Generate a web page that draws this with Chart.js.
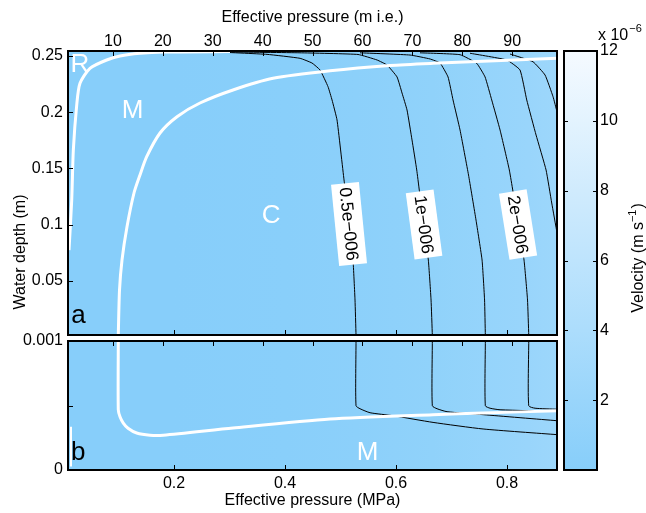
<!DOCTYPE html>
<html>
<head>
<meta charset="utf-8">
<title>Velocity vs effective pressure and water depth</title>
<script src="https://cdn.jsdelivr.net/npm/chart.js@4.4.1/dist/chart.umd.min.js"></script>
<style>
html,body{margin:0;padding:0;background:#ffffff;}
#wrap{position:relative;width:646px;height:513px;overflow:hidden;background:#fff;}
#wrap canvas{position:absolute;left:0;top:0;}
</style>
</head>
<body>
<div id="wrap">
<canvas id="panelA" width="646" height="513"></canvas>
<canvas id="panelB" width="646" height="513"></canvas>
<canvas id="colorbar" width="646" height="513"></canvas>
</div>
<script>
// ================= DATA =================
const mpaRange = [0.009, 0.890];          // effective pressure (MPa)
const mPerMPa = 111.2;                     // m ice-equivalent per MPa
const mpaTicks = [0.2, 0.4, 0.6, 0.8];
const mpaTickLabels = ['0.2', '0.4', '0.6', '0.8'];
const mieTicks = [10, 20, 30, 40, 50, 60, 70, 80, 90];
const mieTickLabels = ['10', '20', '30', '40', '50', '60', '70', '80', '90'];

const depthRangeA = [0.0017, 0.2545];      // water depth (m), panel a
const depthTicksA = [0.05, 0.1, 0.15, 0.2, 0.25];
const depthTickLabelsA = ['0.05', '0.1', '0.15', '0.2', '0.25'];
const depthRangeB = [0, 0.001];            // water depth (m), panel b
const depthTicksB = [0, 0.0005, 0.001];
const depthTickLabelsB = ['0', '', '0.001'];

const velRange = [0, 12];                  // velocity (x 1e-6 m/s)
const velTicks = [2, 4, 6, 8, 10, 12];
const velTickLabels = ['2', '4', '6', '8', '10', '12'];

// background velocity field (x 1e-6 m/s) across effective pressure
const fieldN = [0.009, 0.2, 0.4, 0.528, 0.666, 0.761, 0.839, 0.890];
const fieldV = [0, 0.03, 0.22, 0.5, 1.0, 1.5, 2.0, 2.4];

// velocity contours, panel a  [effective pressure MPa, water depth m]
const contourA05 = [[0.2703,0.2538],[0.3676,0.2515],[0.4270,0.2480],[0.4486,0.2438],[0.4631,0.2376],[0.4775,0.2227],[0.4847,0.2109],[0.4937,0.1931],[0.5063,0.1397],[0.5153,0.1040],[0.5225,0.0684],[0.5261,0.0328],[0.5279,0.0017]];
const contourA10 = [[0.3009,0.2536],[0.4270,0.2529],[0.5315,0.2514],[0.5658,0.2465],[0.5838,0.2420],[0.6018,0.2314],[0.6108,0.2171],[0.6198,0.2020],[0.6288,0.1753],[0.6373,0.1486],[0.6486,0.1040],[0.6582,0.0684],[0.6631,0.0328],[0.6654,0.0017]];
const contourA15 = [[0.5351,0.2529],[0.6252,0.2509],[0.6613,0.2474],[0.6793,0.2438],[0.6937,0.2314],[0.7027,0.2109],[0.7153,0.1842],[0.7306,0.1441],[0.7441,0.1040],[0.7550,0.0684],[0.7595,0.0328],[0.7609,0.0017]];
const contourA20 = [[0.6432,0.2529],[0.7153,0.2512],[0.7454,0.2435],[0.7604,0.2314],[0.7724,0.2109],[0.7874,0.1842],[0.8041,0.1486],[0.8162,0.1130],[0.8306,0.0684],[0.8369,0.0328],[0.8391,0.0017]];
const contourA25 = [[0.7333,0.2525],[0.7995,0.2465],[0.8234,0.2376],[0.8355,0.2109],[0.8523,0.1797],[0.8703,0.1486],[0.8805,0.1192],[0.8901,0.0925]];
const contourA30 = [[0.8054,0.2518],[0.8468,0.2449],[0.8685,0.2331],[0.8829,0.2138],[0.8901,0.2002]];

// velocity contours, panel b
const contourB05 = [[0.5279,0.0010],[0.5279,0.000498],[0.5351,0.000475],[0.5532,0.000444],[0.5946,0.000421],[0.6667,0.000369],[0.7568,0.000318],[0.8901,0.000274]];
const contourB10 = [[0.6654,0.0010],[0.6654,0.000498],[0.6739,0.000475],[0.6919,0.000452],[0.7568,0.000429],[0.8901,0.000382]];
const contourB15 = [[0.7609,0.0010],[0.7609,0.000498],[0.7694,0.000479],[0.7874,0.000467],[0.8901,0.000454]];
const contourB20 = [[0.8391,0.0010],[0.8391,0.000498],[0.8505,0.000479],[0.8901,0.000471]];

// regime boundaries (white lines)
const boundaryRM_A = [[0.3009,0.2540],[0.1802,0.2536],[0.1387,0.2524],[0.1027,0.2500],[0.0787,0.2465],[0.0486,0.2391],[0.0306,0.2257],[0.0247,0.2064],[0.0186,0.1663],[0.0157,0.1219],[0.0108,0.0773]];
const boundaryMC_A = [[0.8901,0.2480],[0.6667,0.2435],[0.5892,0.2416],[0.4811,0.2369],[0.3784,0.2302],[0.3063,0.2198],[0.2468,0.2082],[0.2054,0.1960],[0.1748,0.1815],[0.1508,0.1604],[0.1387,0.1441],[0.1279,0.1281],[0.1153,0.0981],[0.1063,0.0685],[0.1018,0.0417],[0.0996,0.0017]];
const boundaryRM_B = [[0.0144,0.000336],[0.0144,0.000027]];
const boundaryMC_B = [[0.0996,0.0010],[0.0996,0.000467],[0.1027,0.000413],[0.1086,0.000364],[0.1171,0.000324],[0.1328,0.000287],[0.1568,0.000270],[0.1807,0.000270],[0.3063,0.000326],[0.4811,0.000395],[0.6667,0.000429],[0.7568,0.000442],[0.8901,0.000459]];

// contour labels (panel a)
const contourLabelText = ['0.5e\u2212006', '1e\u2212006', '2e\u2212006'];
const contourLabelN = [0.5153, 0.6505, 0.8198];
const contourLabelDepth = [0.1005, 0.1000, 0.1000];

// regime / panel letters
const regionTextA = ['R', 'M', 'C'];
const regionNA = [0.0306, 0.1252, 0.3748];
const regionDepthA = [0.2358, 0.1948, 0.1018];
const regionTextB = ['M'];
const regionNB = [0.5486];
const regionDepthB = [0.0000811];
const panelLetters = ['a', 'b'];
const panelLetterN = [0.0279, 0.0276];
const panelLetterDepth = [0.0124, 0.0000811];

// ================= HELPERS =================
const FONT = "'Liberation Sans', Arial, Helvetica, sans-serif";
const axisFont = {family: FONT, size: 16};
const contoursA = [contourA05, contourA10, contourA15, contourA20, contourA25, contourA30];
const contoursB = [contourB05, contourB10, contourB15, contourB20];
const labelLine = [0, 1, 3];

function cmap(v) {
  const t = Math.max(0, Math.min(1, (v - velRange[0]) / (velRange[1] - velRange[0])));
  const a = [135, 206, 250], b = [245, 250, 255];
  const c = a.map((ai, i) => Math.round(ai + (b[i] - ai) * t));
  return `rgb(${c[0]},${c[1]},${c[2]})`;
}
function fieldGradient(chart) {
  const xs = chart.scales.x;
  if (!xs || !chart.chartArea) return cmap(0);
  const x0 = xs.getPixelForValue(xs.min), x1 = xs.getPixelForValue(xs.max);
  const g = chart.ctx.createLinearGradient(x0, 0, x1, 0);
  fieldN.forEach((n, i) => {
    const p = (xs.getPixelForValue(n) - x0) / (x1 - x0);
    g.addColorStop(Math.max(0, Math.min(1, p)), cmap(fieldV[i]));
  });
  return g;
}
function setTicks(values) {
  return scale => { scale.ticks = values.map(v => ({value: v})); };
}
function pts(arr) { return arr.map(p => ({x: p[0], y: p[1]})); }
function lineDs(arr, color, width, order, tension) {
  return {data: pts(arr), borderColor: color, borderWidth: width, pointRadius: 0,
          fill: false, tension: tension, order: order};
}
function fieldDs(range) {
  return {data: [{x: mpaRange[0], y: range[1]}, {x: mpaRange[1], y: range[1]}],
          borderColor: 'rgba(0,0,0,0)', borderWidth: 0, pointRadius: 0, fill: 'start',
          backgroundColor: ctx => fieldGradient(ctx.chart), order: 5};
}
function hideGrid() { return {display: false, drawTicks: false}; }

function drawFrameAndTicks(chart, specs, len) {
  const ctx = chart.ctx, a = chart.chartArea;
  ctx.save();
  ctx.strokeStyle = '#000';
  ctx.lineWidth = 1;
  specs.forEach(s => {
    const sc = chart.scales[s.scale];
    s.values.forEach(v => {
      const p = Math.round(sc.getPixelForValue(v)) + 0.5;
      ctx.beginPath();
      if (s.side === 'bottom') { ctx.moveTo(p, a.bottom); ctx.lineTo(p, a.bottom - len); }
      else if (s.side === 'top') { ctx.moveTo(p, a.top); ctx.lineTo(p, a.top + len); }
      else if (s.side === 'left') { ctx.moveTo(a.left, p); ctx.lineTo(a.left + len, p); }
      else { ctx.moveTo(a.right, p); ctx.lineTo(a.right - len, p); }
      ctx.stroke();
    });
  });
  ctx.lineWidth = 2;
  ctx.strokeRect(a.left, a.top, a.right - a.left, a.bottom - a.top);
  ctx.restore();
}
function drawTexts(chart, texts, ns, ds, color, size) {
  const ctx = chart.ctx, xs = chart.scales.x, ys = chart.scales.y;
  ctx.save();
  ctx.fillStyle = color;
  ctx.font = `${size}px ${FONT}`;
  ctx.textAlign = 'center';
  ctx.textBaseline = 'alphabetic';
  texts.forEach((t, i) => ctx.fillText(t, xs.getPixelForValue(ns[i]), ys.getPixelForValue(ds[i])));
  ctx.restore();
}
function localAngle(line, depth, xs, ys) {
  for (let i = 0; i < line.length - 1; i++) {
    const d1 = line[i][1], d2 = line[i + 1][1];
    if ((d1 >= depth && d2 <= depth) || i === line.length - 2) {
      const x1 = xs.getPixelForValue(line[i][0]), y1 = ys.getPixelForValue(d1);
      const x2 = xs.getPixelForValue(line[i + 1][0]), y2 = ys.getPixelForValue(d2);
      return Math.atan2(y2 - y1, x2 - x1);
    }
  }
  return Math.PI / 2;
}

const baseOpts = {
  responsive: false, animation: false, events: [], devicePixelRatio: 1,
  plugins: {legend: {display: false}, tooltip: {enabled: false}}
};

// ================= PANEL A =================
const plotA = {
  id: 'plotA',
  afterDatasetsDraw(chart) {
    const ctx = chart.ctx, xs = chart.scales.x, ys = chart.scales.y;
    ctx.save();
    ctx.font = `17.5px ${FONT}`;
    contourLabelText.forEach((t, i) => {
      const px = xs.getPixelForValue(contourLabelN[i]);
      const py = ys.getPixelForValue(contourLabelDepth[i]);
      const ang = localAngle(contoursA[labelLine[i]], contourLabelDepth[i], xs, ys);
      ctx.save();
      ctx.translate(px, py);
      ctx.rotate(ang);
      const w = ctx.measureText(t).width + 8, h = 28;
      ctx.fillStyle = '#fff';
      ctx.fillRect(-w / 2, -h / 2, w, h);
      ctx.fillStyle = '#000';
      ctx.textAlign = 'center';
      ctx.textBaseline = 'middle';
      ctx.fillText(t, 0, 1);
      ctx.restore();
    });
    ctx.restore();
    drawTexts(chart, regionTextA, regionNA, regionDepthA, '#fff', 26);
    drawTexts(chart, [panelLetters[0]], [panelLetterN[0]], [panelLetterDepth[0]], '#000', 26);
  },
  afterDraw(chart) {
    drawFrameAndTicks(chart, [
      {scale: 'y', side: 'left', values: depthTicksA},
      {scale: 'x2', side: 'top', values: mieTicks},
      {scale: 'x', side: 'bottom', values: mpaTicks}
    ], 5);
    const ctx = chart.ctx;
    ctx.save();
    ctx.translate(21, 252);
    ctx.rotate(-Math.PI / 2);
    ctx.font = `16px ${FONT}`;
    ctx.fillStyle = '#000';
    ctx.textAlign = 'center';
    ctx.textBaseline = 'middle';
    ctx.fillText('Water depth (m)', 0, 0);
    ctx.restore();
  }
};

new Chart(document.getElementById('panelA'), {
  type: 'line',
  data: {datasets: [
    fieldDs(depthRangeA),
    ...contoursA.map(c => lineDs(c, '#000', 1, 2, 0.12)),
    lineDs(boundaryRM_A, '#fff', 3, 1, 0.25),
    lineDs(boundaryMC_A, '#fff', 3, 1, 0.25)
  ]},
  options: Object.assign({}, baseOpts, {
    layout: {padding: {left: 0, top: 0, right: 89, bottom: 178}},
    scales: {
      x: {type: 'linear', position: 'bottom', min: mpaRange[0], max: mpaRange[1],
          afterBuildTicks: setTicks(mpaTicks), ticks: {display: false},
          grid: hideGrid(), border: {display: false}, afterFit: s => { s.height = 0; }},
      x2: {type: 'linear', position: 'top', min: mpaRange[0] * mPerMPa, max: mpaRange[1] * mPerMPa,
           afterBuildTicks: setTicks(mieTicks),
           ticks: {font: axisFont, color: '#000', padding: 0, maxRotation: 0, autoSkip: false,
                   callback: (v, i) => mieTickLabels[i]},
           grid: hideGrid(), border: {display: false},
           title: {display: true, text: 'Effective pressure (m i.e.)', font: axisFont, color: '#000',
                   padding: {top: 8, bottom: 0}},
           afterFit: s => { s.height = 51; }},
      y: {type: 'linear', position: 'left', min: depthRangeA[0], max: depthRangeA[1],
          afterBuildTicks: setTicks(depthTicksA),
          ticks: {font: axisFont, color: '#000', padding: 5, autoSkip: false,
                  callback: (v, i) => depthTickLabelsA[i]},
          grid: hideGrid(), border: {display: false}, afterFit: s => { s.width = 68; }}
    }
  }),
  plugins: [plotA]
});

// ================= PANEL B =================
const plotB = {
  id: 'plotB',
  afterDatasetsDraw(chart) {
    drawTexts(chart, regionTextB, regionNB, regionDepthB, '#fff', 26);
    drawTexts(chart, [panelLetters[1]], [panelLetterN[1]], [panelLetterDepth[1]], '#000', 26);
  },
  afterDraw(chart) {
    drawFrameAndTicks(chart, [
      {scale: 'y', side: 'left', values: depthTicksB},
      {scale: 'x2', side: 'top', values: mieTicks},
      {scale: 'x', side: 'bottom', values: mpaTicks}
    ], 5);
  }
};

new Chart(document.getElementById('panelB'), {
  type: 'line',
  data: {datasets: [
    fieldDs(depthRangeB),
    ...contoursB.map(c => lineDs(c, '#000', 1, 2, 0.2)),
    lineDs(boundaryRM_B, '#fff', 2, 1, 0),
    lineDs(boundaryMC_B, '#fff', 3, 1, 0.25)
  ]},
  options: Object.assign({}, baseOpts, {
    layout: {padding: {left: 0, top: 341, right: 89, bottom: 0}},
    scales: {
      x: {type: 'linear', position: 'bottom', min: mpaRange[0], max: mpaRange[1],
          afterBuildTicks: setTicks(mpaTicks),
          ticks: {font: axisFont, color: '#000', padding: 4, maxRotation: 0, autoSkip: false,
                  callback: (v, i) => mpaTickLabels[i]},
          grid: hideGrid(), border: {display: false},
          title: {display: true, text: 'Effective pressure (MPa)', font: axisFont, color: '#000',
                  padding: {top: 0, bottom: 3}},
          afterFit: s => { s.height = 43; }},
      x2: {type: 'linear', position: 'top', min: mpaRange[0] * mPerMPa, max: mpaRange[1] * mPerMPa,
           afterBuildTicks: setTicks(mieTicks), ticks: {display: false},
           grid: hideGrid(), border: {display: false}, afterFit: s => { s.height = 0; }},
      y: {type: 'linear', position: 'left', min: depthRangeB[0], max: depthRangeB[1],
          afterBuildTicks: setTicks(depthTicksB),
          ticks: {font: axisFont, color: '#000', padding: 5, autoSkip: false,
                  callback: (v, i) => depthTickLabelsB[i]},
          grid: hideGrid(), border: {display: false}, afterFit: s => { s.width = 68; }}
    }
  }),
  plugins: [plotB]
});

// ================= COLORBAR =================
function colorbarGradient(chart) {
  const ys = chart.scales.y;
  if (!ys || !chart.chartArea) return cmap(0);
  const y0 = ys.getPixelForValue(velRange[0]), y1 = ys.getPixelForValue(velRange[1]);
  const g = chart.ctx.createLinearGradient(0, y0, 0, y1);
  g.addColorStop(0, cmap(velRange[0]));
  velTicks.forEach(v => g.addColorStop((v - velRange[0]) / (velRange[1] - velRange[0]), cmap(v)));
  return g;
}
const plotC = {
  id: 'plotC',
  afterDraw(chart) {
    drawFrameAndTicks(chart, [
      {scale: 'y', side: 'left', values: velTicks},
      {scale: 'y', side: 'right', values: velTicks}
    ], 4);
    const ctx = chart.ctx;
    ctx.save();
    ctx.fillStyle = '#000';
    ctx.textBaseline = 'alphabetic';
    ctx.textAlign = 'left';
    ctx.font = `16px ${FONT}`;
    ctx.fillText('x 10', 598, 40);
    const w10 = ctx.measureText('x 10').width;
    ctx.font = `11px ${FONT}`;
    ctx.fillText('\u22126', 598 + w10 + 1, 32);
    // vertical title
    ctx.translate(643, 258);
    ctx.rotate(-Math.PI / 2);
    const main = 'Velocity (m s', sup = '\u22121', close = ')';
    ctx.font = `16px ${FONT}`;
    const wm = ctx.measureText(main).width, wc = ctx.measureText(close).width;
    ctx.font = `11px ${FONT}`;
    const ws = ctx.measureText(sup).width;
    let x = -(wm + ws + wc + 1) / 2;
    ctx.font = `16px ${FONT}`;
    ctx.fillText(main, x, 0);
    x += wm;
    ctx.font = `11px ${FONT}`;
    ctx.fillText(sup, x, -7);
    x += ws + 1;
    ctx.font = `16px ${FONT}`;
    ctx.fillText(close, x, 0);
    ctx.restore();
  }
};

new Chart(document.getElementById('colorbar'), {
  type: 'bar',
  data: {labels: ['velocity'], datasets: [{
    data: [[velRange[0], velRange[1]]],
    backgroundColor: ctx => colorbarGradient(ctx.chart),
    borderWidth: 0, barPercentage: 1, categoryPercentage: 1
  }]},
  options: Object.assign({}, baseOpts, {
    layout: {padding: {left: 564, top: 51, right: 0, bottom: 43}},
    scales: {
      x: {display: false},
      y: {type: 'linear', position: 'right', min: velRange[0], max: velRange[1],
          afterBuildTicks: setTicks(velTicks),
          ticks: {font: axisFont, color: '#000', padding: 3, autoSkip: false,
                  callback: (v, i) => velTickLabels[i]},
          grid: hideGrid(), border: {display: false}, afterFit: s => { s.width = 49; }}
    }
  }),
  plugins: [plotC]
});
</script>
</body>
</html>
